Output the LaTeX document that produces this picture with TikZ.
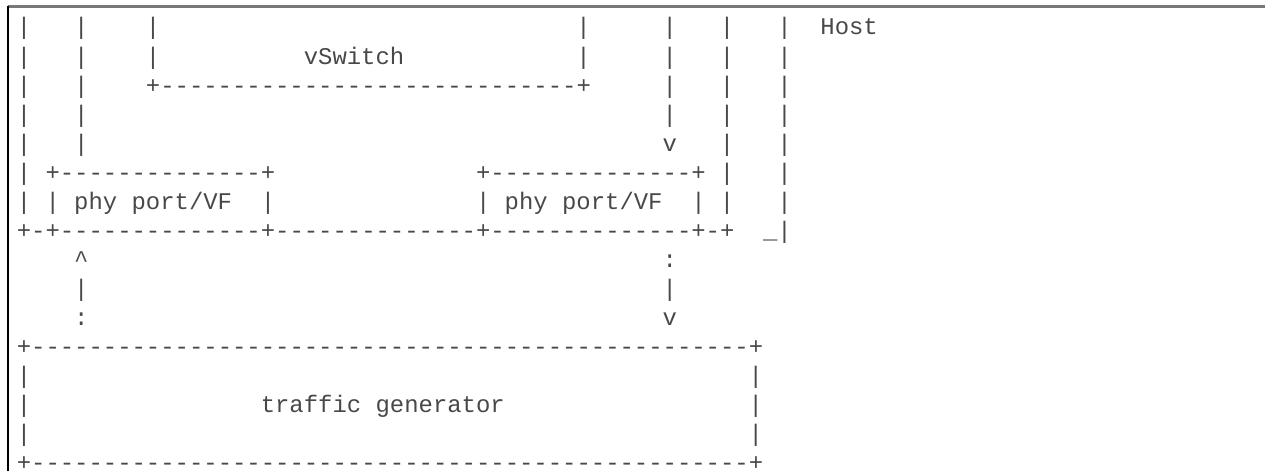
\documentclass[tikz,border=0pt]{standalone}
\usepackage{fontspec}
\newfontfamily\asciimono{Liberation Mono}
\definecolor{txtgray}{RGB}{72,72,72}
\definecolor{topgray}{RGB}{120,120,120}
\tikzset{
  asc/.style={anchor=base west, inner sep=0pt, outer sep=0pt, text=txtgray,
    font=\asciimono\fontsize{17.94}{20}\selectfont},
}
% \asc{row}{col}{text}
\newcommand\asc[3]{\node[asc] (t-#1-#2) at ({16.825+14.35*#2},{35+29*(#1-1)}) {#3};}
\newcommand\dsh[1]{\foreach \i in {1,...,#1}{-}}
\begin{document}
\begin{tikzpicture}[x=0.75pt,y=-0.75pt]
\useasboundingbox (0,0) rectangle (1265,471);
% code-block frame
\draw[topgray, line width=1.6pt] (8,6.5) -- (1265,6.5);
\draw[black, line width=1.1pt] (8,6) -- (8,471);
% row 1
\asc{1}{0}{|}\asc{1}{4}{|}\asc{1}{9}{|}\asc{1}{39}{|}\asc{1}{45}{|}\asc{1}{49}{|}\asc{1}{53}{|}\asc{1}{56}{Host}
% row 2
\asc{2}{0}{|}\asc{2}{4}{|}\asc{2}{9}{|}\asc{2}{20}{vSwitch}\asc{2}{39}{|}\asc{2}{45}{|}\asc{2}{49}{|}\asc{2}{53}{|}
% row 3
\asc{3}{0}{|}\asc{3}{4}{|}\asc{3}{9}{+\dsh{29}+}\asc{3}{45}{|}\asc{3}{49}{|}\asc{3}{53}{|}
% row 4
\asc{4}{0}{|}\asc{4}{4}{|}\asc{4}{45}{|}\asc{4}{49}{|}\asc{4}{53}{|}
% row 5
\asc{5}{0}{|}\asc{5}{4}{|}\asc{5}{45}{v}\asc{5}{49}{|}\asc{5}{53}{|}
% row 6
\asc{6}{0}{|}\asc{6}{2}{+\dsh{14}+}\asc{6}{32}{+\dsh{14}+}\asc{6}{49}{|}\asc{6}{53}{|}
% row 7
\asc{7}{0}{|}\asc{7}{2}{|}\asc{7}{4}{phy port/VF}\asc{7}{17}{|}\asc{7}{32}{|}\asc{7}{34}{phy port/VF}\asc{7}{47}{|}\asc{7}{49}{|}\asc{7}{53}{|}
% row 8
\asc{8}{0}{+-+\dsh{14}+\dsh{14}+\dsh{14}+-+}\asc{8}{52}{\_|}
% rows 9-11
\asc{9}{4}{\^{}}\asc{9}{45}{:}
\asc{10}{4}{|}\asc{10}{45}{|}
\asc{11}{4}{:}\asc{11}{45}{v}
% rows 12-16
\asc{12}{0}{+\dsh{50}+}
\asc{13}{0}{|}\asc{13}{51}{|}
\asc{14}{0}{|}\asc{14}{17}{traffic generator}\asc{14}{51}{|}
\asc{15}{0}{|}\asc{15}{51}{|}
\asc{16}{0}{+\dsh{50}+}
\end{tikzpicture}
\end{document}
